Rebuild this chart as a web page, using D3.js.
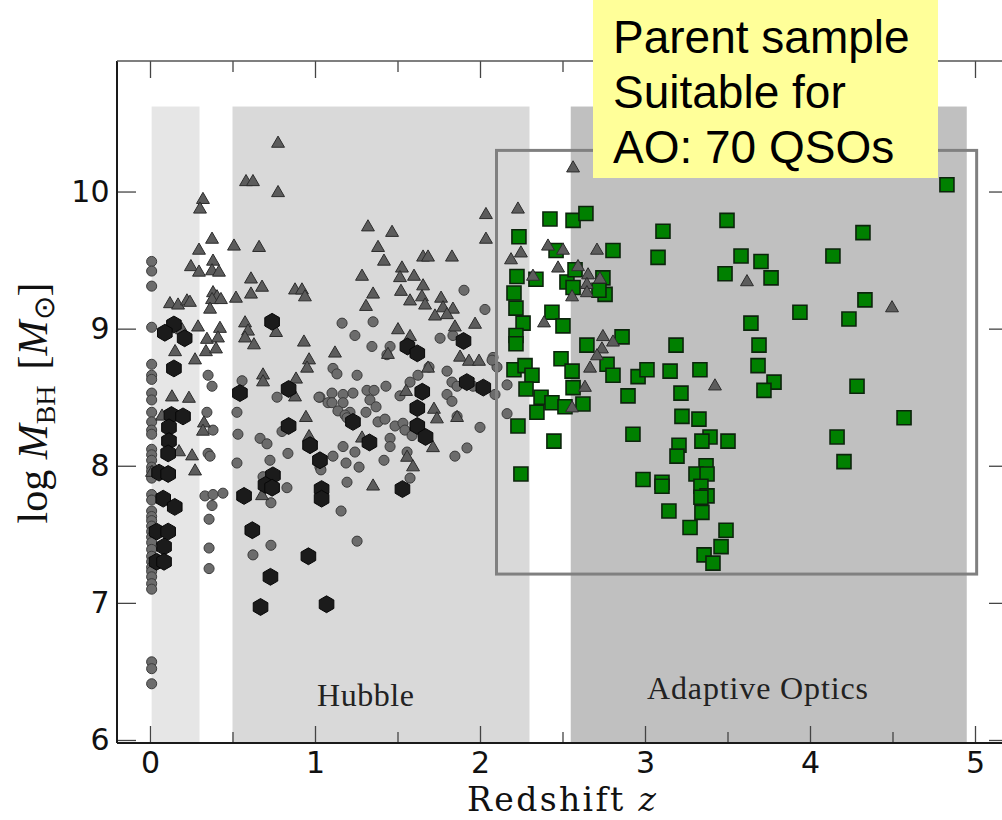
<!DOCTYPE html>
<html>
<head>
<meta charset="utf-8">
<script src="https://cdn.jsdelivr.net/npm/d3@7"></script>
<style>
  html, body { margin: 0; padding: 0; background: #fff; }
  svg { display: block; }
</style>
</head>
<body>
<svg id="chart" width="1002" height="820"></svg>
<script>
// Black-hole mass versus redshift for the quasar parent sample.

// Redshift coverage bands: [zStart, zEnd, label]
const bandRanges = [[0.01, 0.30, ""], [0.50, 2.30, "Hubble"], [2.55, 4.95, "Adaptive Optics"]];
const bandTop = 10.62;

// Local reverberation / low-z sample (small grey circles) [z, log M_BH]
const circleSample = [
  [0.01,9.49],[0.01,9.42],[0.01,9.31],[0.01,9.01],[0.01,8.74],[0.01,8.66],[0.01,8.63],[0.01,8.53],
  [0.01,8.48],[0.01,8.39],[0.01,8.32],[0.01,8.26],[0.01,8.23],[0.01,8.12],[0.01,8.08],[0.01,8.04],
  [0.01,7.99],[0.01,7.96],[0.01,7.91],[0.01,7.79],[0.01,7.75],[0.01,7.67],[0.01,7.63],[0.01,7.60],
  [0.01,7.56],[0.01,7.52],[0.01,7.48],[0.01,7.44],[0.01,7.39],[0.01,7.34],[0.01,7.30],[0.01,7.26],
  [0.01,7.23],[0.01,7.19],[0.01,7.14],[0.01,7.10],[0.01,6.57],[0.01,6.52],[0.01,6.41],
  [0.352,8.66],[0.376,8.58],[0.558,8.62],[0.770,8.50],[0.345,8.39],[0.382,8.26],[0.352,8.09],[0.364,8.07],
  [0.527,8.39],[0.533,8.23],[0.527,8.02],[0.667,8.20],[0.709,8.16],[0.727,8.04],[0.836,8.09],[0.830,7.84],
  [0.333,7.78],[0.382,7.79],[0.442,7.80],[0.376,7.71],[0.358,7.61],[0.358,7.40],[0.358,7.25],[0.624,7.35],
  [0.733,7.42],[0.733,7.73],[0.685,7.92],[1.030,8.50],[1.079,8.46],[0.800,8.25],[1.030,7.99],
  [1.164,9.04],[1.352,9.05],[1.242,8.95],[1.345,8.87],[1.455,8.87],[1.436,8.81],[1.903,9.28],[2.030,9.14],
  [1.758,8.93],[1.836,8.95],[2.079,8.79],[1.109,8.71],[1.133,8.67],[1.255,8.66],[1.024,8.50],[1.103,8.53],
  [1.170,8.52],[1.230,8.53],[1.103,8.46],[1.170,8.46],[1.139,8.40],[1.212,8.39],[1.182,8.37],[1.315,8.55],
  [1.333,8.48],[1.370,8.43],[1.309,8.39],[1.194,8.35],[1.382,8.32],[1.424,8.34],[1.485,8.29],[1.533,8.31],
  [1.545,8.26],[1.515,8.51],[1.576,8.61],[1.624,8.66],[1.691,8.72],[1.800,8.69],[1.830,8.61],[1.861,8.58],
  [1.800,8.52],[1.830,8.47],[1.958,8.58],[2.000,8.28],[2.091,8.52],[2.164,8.59],[1.921,8.13],[1.455,8.20],
  [1.455,8.14],[1.558,8.10],[1.170,8.14],[1.242,8.10],[1.109,8.07],[2.103,8.72],[1.036,7.97],[1.188,8.02],
  [1.267,7.99],[1.418,8.04],[1.576,7.91],[1.194,7.88],[1.158,7.67],[1.255,7.45],[1.861,8.36],[1.848,8.07],
  [2.164,8.38],[1.588,8.22],[1.358,8.55],[1.430,8.58],[2.073,8.77]
];

// Single-epoch virial masses (grey triangles) [z, log M_BH]
const triangleSample = [
  [0.776,10.35],[0.582,10.07],[0.624,10.07],[0.776,9.99],[0.321,9.94],[0.303,9.87],[0.376,9.65],[0.297,9.57],
  [0.509,9.60],[0.661,9.59],[0.248,9.45],[0.297,9.41],[0.382,9.49],[0.376,9.42],[0.418,9.41],[0.612,9.36],
  [0.679,9.30],[0.612,9.25],[0.121,9.18],[0.170,9.17],[0.224,9.20],[0.242,9.19],[0.382,9.26],[0.406,9.23],
  [0.376,9.21],[0.430,9.21],[0.521,9.22],[0.364,9.14],[0.879,9.28],[0.921,9.28],[0.939,9.23],[0.291,9.01],
  [0.424,9.00],[0.345,8.92],[0.412,8.93],[0.152,8.83],[0.339,8.83],[0.400,8.85],[0.273,8.77],[0.194,8.99],
  [0.576,9.04],[0.594,8.98],[0.576,8.93],[0.630,8.88],[0.764,8.97],[0.933,8.90],[0.964,8.77],[0.952,8.71],
  [0.685,8.66],[0.885,8.63],[0.879,8.50],[0.133,8.50],[0.236,8.49],[0.073,8.36],[0.327,8.31],[0.321,8.25],
  [0.945,8.35],[0.964,8.21],[0.176,8.10],[0.255,8.07],[0.273,7.96],[0.679,7.78],[0.012,7.95],[0.685,8.61],
  [1.321,9.74],[1.467,9.70],[1.382,9.59],[1.418,9.49],[1.285,9.38],[1.527,9.44],[1.515,9.37],[1.600,9.38],
  [1.655,9.52],[1.685,9.52],[1.830,9.52],[2.036,9.83],[2.036,9.65],[1.655,9.31],[1.521,9.27],[1.352,9.25],
  [1.309,9.16],[1.576,9.20],[1.648,9.23],[1.667,9.17],[1.764,9.22],[1.776,9.15],[1.836,9.14],[1.727,9.09],
  [1.800,9.10],[1.121,8.82],[1.503,8.99],[1.576,8.94],[1.848,9.01],[1.970,9.03],[1.442,8.81],[1.685,8.71],
  [1.879,8.79],[1.933,8.76],[1.994,8.76],[1.552,8.54],[1.721,8.41],[1.739,8.34],[1.861,8.35],[1.285,8.20],
  [1.715,8.13],[1.558,8.06],[1.594,7.99],[1.352,7.85],[2.230,9.87],[2.248,9.55],[2.188,9.50],[2.564,10.17],
  [2.412,9.60],[2.503,9.57],[2.709,9.57],[2.473,9.44],[2.594,9.45],[2.321,9.38],[2.655,9.39],[2.648,9.32],
  [2.648,9.26],[2.558,9.23],[2.727,9.36],[2.388,9.04],[2.745,8.94],[2.806,8.90],[2.739,8.85],[2.709,8.80],
  [2.667,8.71],[2.636,8.57],[2.558,8.42],[3.424,8.58],[3.618,9.34],[4.497,9.15]
];

// Reverberation-mapped masses (black hexagons) [z, log M_BH]
const hexagonSample = [
  [0.145,9.03],[0.090,8.97],[0.210,8.93],[0.145,8.71],[0.740,9.05],[0.545,8.53],[0.840,8.56],[0.130,8.37],
  [0.200,8.36],[0.115,8.28],[0.115,8.18],[0.110,8.09],[0.840,8.29],[0.970,8.15],[0.055,7.95],[0.110,7.94],
  [1.030,8.04],[0.745,7.93],[0.700,7.86],[0.740,7.84],[0.570,7.78],[0.080,7.76],[0.150,7.70],[1.040,7.83],
  [1.040,7.76],[0.620,7.53],[0.040,7.52],[0.110,7.52],[0.085,7.41],[0.040,7.30],[0.085,7.30],[0.670,6.97],
  [0.730,7.19],[1.560,8.87],[1.620,8.82],[1.900,8.91],[1.650,8.54],[1.920,8.61],[2.020,8.57],[1.620,8.42],
  [1.230,8.32],[1.620,8.29],[1.670,8.21],[1.330,8.17],[1.530,7.83],[0.960,7.34],[1.070,6.99]
];

// Quasars suitable for adaptive-optics imaging (green squares) [z, log M_BH]
const aoSample = [
  [4.830,10.05],[2.424,9.80],[2.564,9.79],[2.642,9.84],[2.236,9.67],[2.461,9.57],[2.806,9.57],[3.109,9.71],
  [3.079,9.52],[3.497,9.79],[3.582,9.53],[3.485,9.40],[3.703,9.49],[3.764,9.37],[4.139,9.53],[4.321,9.70],
  [4.333,9.21],[3.939,9.12],[4.236,9.07],[3.642,9.04],[3.691,8.88],[3.685,8.73],[3.782,8.61],[3.721,8.55],
  [4.285,8.58],[4.570,8.35],[4.164,8.21],[4.206,8.03],[2.224,9.38],[2.339,9.36],[2.527,9.34],[2.564,9.30],
  [2.576,9.43],[2.745,9.37],[2.758,9.25],[2.721,9.28],[2.206,9.26],[2.218,9.15],[2.261,9.04],[2.218,8.95],
  [2.218,8.89],[2.436,9.12],[2.503,9.02],[2.861,8.94],[2.648,8.88],[3.188,8.88],[2.491,8.78],[2.558,8.69],
  [2.770,8.74],[2.806,8.66],[2.958,8.65],[3.012,8.70],[3.152,8.69],[3.333,8.70],[2.206,8.70],[2.273,8.73],
  [2.315,8.66],[2.279,8.56],[2.370,8.50],[2.436,8.46],[2.515,8.43],[2.564,8.57],[2.624,8.45],[2.345,8.39],
  [2.897,8.51],[3.218,8.53],[2.230,8.29],[2.927,8.23],[3.224,8.36],[3.327,8.34],[3.394,8.21],[3.503,8.18],
  [3.345,8.18],[2.448,8.18],[3.206,8.15],[3.194,8.07],[3.370,8.00],[3.309,7.94],[3.376,7.94],[2.988,7.90],
  [3.103,7.88],[3.103,7.85],[3.339,7.85],[3.376,7.78],[3.339,7.77],[3.145,7.67],[3.345,7.66],[3.273,7.55],
  [3.491,7.53],[3.461,7.41],[3.358,7.35],[3.412,7.29],[2.248,7.94]
];

// Axis ticks
const xMajorTicks = [0, 1, 2, 3, 4, 5];
const xMinorTicks = [0.5, 1.5, 2.5, 3.5, 4.5];
const yMajorTicks = [6, 7, 8, 9, 10];

// Selection window drawn around the AO-suitable targets: [z0, z1, m0, m1]
const selectionBox = [2.10, 5.01, 7.21, 10.30];

// Callout text
const calloutLines = ["Parent sample", "Suitable for", "AO: 70 QSOs"];

const svg = d3.select("#chart");

const x = d3.scaleLinear().domain([-0.2, 5.2]).range([117, 1008]);
const y = d3.scaleLinear().domain([5.978, 10.952]).range([743, 61]);

// --- redshift bands ---
const bandFill = ["#e6e6e6", "#d9d9d9", "#c0c0c0"];
svg.append("g").selectAll("rect")
  .data(bandRanges)
  .join("rect")
  .attr("x", d => x(d[0]))
  .attr("width", d => x(d[1]) - x(d[0]))
  .attr("y", y(bandTop))
  .attr("height", y.range()[0] - y(bandTop))
  .attr("fill", (d, i) => bandFill[i]);

svg.append("g")
  .attr("font-family", "'Liberation Serif', 'Times New Roman', serif")
  .attr("font-size", 32)
  .attr("fill", "#222")
  .selectAll("text")
  .data(bandRanges.filter(d => d[2]))
  .join("text")
  .attr("x", d => d[2] === "Hubble" ? x(1.012) : x(3.012))
  .attr("y", d => d[2] === "Hubble" ? 706 : 699)
  .attr("textLength", d => d[2] === "Hubble" ? 97 : 221)
  .attr("lengthAdjust", "spacing")
  .text(d => d[2]);

// --- markers ---
const hexagon = {
  draw(context, size) {
    const r = Math.sqrt(size / (1.5 * Math.sqrt(3)));
    for (let i = 0; i < 6; i++) {
      const a = -Math.PI / 2 + i * Math.PI / 3;
      const px = r * Math.cos(a), py = r * Math.sin(a);
      if (i === 0) context.moveTo(px, py); else context.lineTo(px, py);
    }
    context.closePath();
  }
};

function drawMarkers(data, type, size, fill, stroke, strokeWidth) {
  svg.append("g").selectAll("path")
    .data(data)
    .join("path")
    .attr("transform", d => `translate(${x(d[0])},${y(d[1])})`)
    .attr("d", d3.symbol(type, size))
    .attr("fill", fill)
    .attr("stroke", stroke)
    .attr("stroke-width", strokeWidth);
}

drawMarkers(aoSample, d3.symbolSquare, 196, "#008000", "#0c240c", 1.6);
drawMarkers(circleSample, d3.symbolCircle, 80, "#6c6c6c", "#3c3c3c", 1);
drawMarkers(triangleSample, d3.symbolTriangle, 72, "#5c5c5c", "#2c2c2c", 1);
drawMarkers(hexagonSample, hexagon, 185, "#1b1b1b", "#080808", 1);

// --- frame and ticks ---
const frame = svg.append("g");
const [x0, x1] = x.range();
const [yb, yt] = y.range();

function tickAxis(axis, transform, values, size, labels) {
  const g = svg.append("g")
    .attr("transform", transform)
    .call(axis.tickValues(values).tickSize(size).tickPadding(labels ? 9 : 0)
      .tickFormat(labels ? d3.format("d") : ""));
  g.select(".domain").remove();
  g.selectAll(".tick line").attr("stroke", "#444").attr("stroke-width", 1.3);
  g.selectAll("text")
    .attr("font-family", "'DejaVu Sans', sans-serif")
    .attr("font-size", 30)
    .attr("fill", "#111");
  return g;
}

tickAxis(d3.axisBottom(x), `translate(0,${yb})`, xMajorTicks, -17, true);
tickAxis(d3.axisBottom(x), `translate(0,${yb})`, xMinorTicks, -11, false);
tickAxis(d3.axisTop(x), `translate(0,${yt})`, xMajorTicks, -17, false);
tickAxis(d3.axisTop(x), `translate(0,${yt})`, xMinorTicks, -11, false);
tickAxis(d3.axisLeft(y), `translate(${x0},0)`, yMajorTicks, -19, true)
  .selectAll("text").attr("dx", "0.05em");
tickAxis(d3.axisRight(y), `translate(${x1},0)`, yMajorTicks, -19, false);

frame.append("line").attr("x1", x0).attr("x2", x0).attr("y1", yt).attr("y2", yb)
  .attr("stroke", "#1a1a1a").attr("stroke-width", 2);
frame.append("line").attr("x1", x0).attr("x2", x1).attr("y1", yb).attr("y2", yb)
  .attr("stroke", "#1a1a1a").attr("stroke-width", 2);
frame.append("line").attr("x1", x0).attr("x2", x1).attr("y1", yt).attr("y2", yt)
  .attr("stroke", "#555").attr("stroke-width", 1.5);
frame.append("line").attr("x1", x1).attr("x2", x1).attr("y1", yt).attr("y2", yb)
  .attr("stroke", "#555").attr("stroke-width", 1.5);
svg.node().appendChild(frame.node());

// --- axis titles ---
svg.append("text")
  .attr("x", 467)
  .attr("y", 811)
  .attr("font-family", "'DejaVu Serif', serif")
  .attr("font-size", 33)
  .attr("fill", "#111")
  .attr("textLength", 189)
  .attr("lengthAdjust", "spacing")
  .call(t => {
    t.append("tspan").text("Redshift ");
    t.append("tspan").attr("font-style", "italic").text("z");
  });

svg.append("text")
  .attr("transform", "translate(47,403) rotate(-90)")
  .attr("text-anchor", "middle")
  .attr("font-family", "'Liberation Serif', 'Times New Roman', serif")
  .attr("font-size", 42)
  .attr("fill", "#111")
  .call(t => {
    t.append("tspan").text("log ");
    t.append("tspan").attr("font-style", "italic").text("M");
    t.append("tspan").attr("font-size", 28).attr("dy", 8).text("BH");
    t.append("tspan").attr("dy", -8).attr("dx", 16).text("[");
    t.append("tspan").attr("font-style", "italic").text("M");
    t.append("tspan").attr("font-size", 29).attr("dy", 7).text("\u2299");
    t.append("tspan").attr("dy", -7).text("]");
  });

// --- selection window ---
svg.append("rect")
  .attr("x", x(selectionBox[0]))
  .attr("y", y(selectionBox[3]))
  .attr("width", x(selectionBox[1]) - x(selectionBox[0]))
  .attr("height", y(selectionBox[2]) - y(selectionBox[3]))
  .attr("fill", "none")
  .attr("stroke", "#808080")
  .attr("stroke-width", 3);

// --- callout ---
const callout = svg.append("g");
callout.append("rect")
  .attr("x", 593).attr("y", 0).attr("width", 345).attr("height", 178)
  .attr("fill", "#ffff99");
callout.selectAll("text")
  .data(calloutLines)
  .join("text")
  .attr("x", 613)
  .attr("y", (d, i) => 53 + i * 55)
  .attr("font-family", "'Liberation Sans', Arial, sans-serif")
  .attr("font-size", 46)
  .attr("fill", "#000")
  .text(d => d);
</script>
</body>
</html>
